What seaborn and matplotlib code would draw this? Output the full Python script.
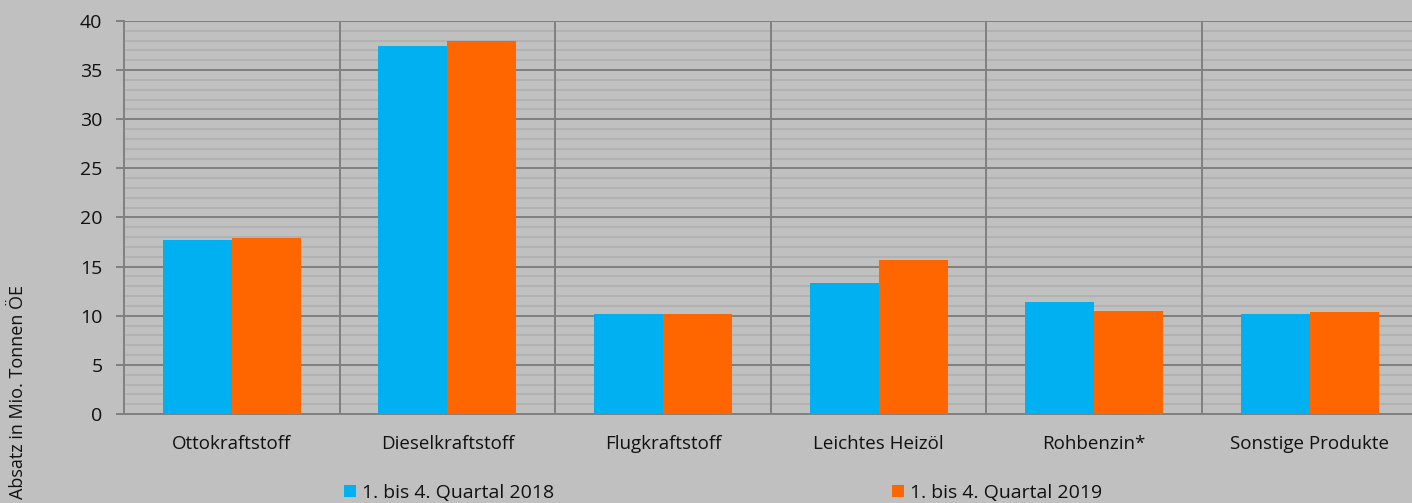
import numpy as np
import pandas as pd
import matplotlib
matplotlib.use("Agg")
import matplotlib.pyplot as plt
from matplotlib.ticker import MultipleLocator
import seaborn as sns

# Absatz Mineralölprodukte, Mio. Tonnen ÖE
products = ["Ottokraftstoff", "Dieselkraftstoff", "Flugkraftstoff",
            "Leichtes Heizöl", "Rohbenzin*", "Sonstige Produkte"]
series = ["1. bis 4. Quartal 2018", "1. bis 4. Quartal 2019"]
vals_2018 = [17.7, 37.45, 10.2, 13.3, 11.4, 10.2]
vals_2019 = [17.9, 37.95, 10.2, 15.65, 10.5, 10.4]
colors = ["#00B0F0", "#FF6600"]

df = pd.DataFrame({
    "Produkt": products * 2,
    "Zeitraum": [series[0]] * len(products) + [series[1]] * len(products),
    "Wert": vals_2018 + vals_2019,
})

sns.set_style("white")
plt.rcParams["font.family"] = ["Open Sans", "DejaVu Sans"]

bg = "#C0C0C0"
grid_dark = "#808080"
fig = plt.figure(figsize=(14.12, 5.03), dpi=100, facecolor=bg)
ax = fig.add_axes([124 / 1412, 1 - 414 / 503, 1293.6 / 1412, 393 / 503])
ax.set_facecolor(bg)

sns.barplot(data=df, x="Produkt", y="Wert", hue="Zeitraum", order=products,
            hue_order=series, palette=colors, width=0.64, gap=0,
            saturation=1, linewidth=0, ax=ax, legend=True, zorder=3)

ax.set_xlim(-0.5, len(products) - 0.5)
ax.set_ylim(0, 40)
ax.yaxis.set_major_locator(MultipleLocator(5))
ax.yaxis.set_minor_locator(MultipleLocator(1))

ax.yaxis.grid(True, which="minor", color="#B0B0B0", linewidth=1.2)
ax.yaxis.grid(True, which="major", color=grid_dark, linewidth=1.4)
ax.xaxis.grid(False)
ax.set_axisbelow(True)
# category separators
for b in np.arange(0.5, len(products) - 0.5, 1):
    ax.axvline(b, color=grid_dark, linewidth=1.4, zorder=1)

for s in ["top", "right"]:
    ax.spines[s].set_visible(False)
ax.spines["left"].set_color(grid_dark)
ax.spines["left"].set_linewidth(1.4)
ax.spines["bottom"].set_color(grid_dark)
ax.spines["bottom"].set_linewidth(1.4)

ax.tick_params(axis="y", which="major", left=True, length=6, width=1.4,
               color=grid_dark, labelsize=14, pad=9.5, labelcolor="#111111")
ax.tick_params(axis="y", which="minor", left=False)
ax.tick_params(axis="x", which="both", bottom=False, length=0,
               labelsize=13.5, pad=15, labelcolor="#111111")

ax.set_xlabel("")
ax.set_ylabel("")
fig.text(18 / 1412, 1 - 392 / 503, "Absatz in Mio. Tonnen ÖE", rotation=90,
         ha="center", va="center", fontsize=13, color="#111111")

handles, labels = ax.get_legend_handles_labels()
ax.get_legend().remove()
fig.legend(handles, labels, loc="center", bbox_to_anchor=(723 / 1412, 1 - 493 / 503),
           ncol=2, frameon=False, fontsize=14, handlelength=0.62,
           handleheight=0.62, handletextpad=0.3, columnspacing=17.4,
           labelcolor="#111111")

fig.savefig("out.png", dpi=100, facecolor=bg)
